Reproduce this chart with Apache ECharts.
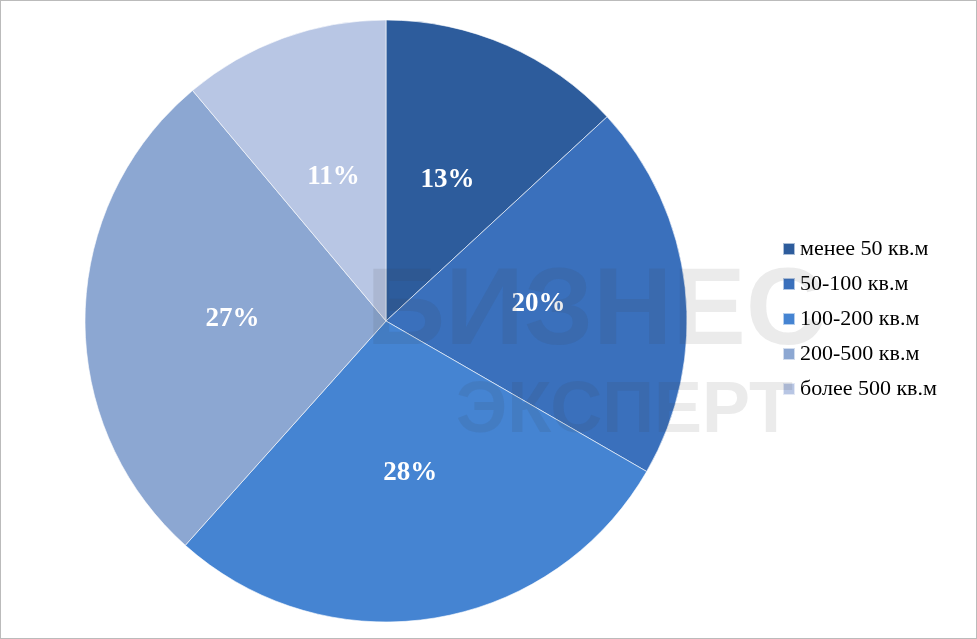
<!DOCTYPE html>
<html><head><meta charset="utf-8">
<script src="https://cdn.jsdelivr.net/npm/echarts@6/dist/echarts.min.js"></script>
<style>html,body{margin:0;padding:0;background:#fff}#chart{width:977px;height:639px;box-sizing:border-box;border:1px solid #bbb}</style>
</head><body><div id="chart"></div>
<script>
const categories = ["менее 50 кв.м", "50-100 кв.м", "100-200 кв.м", "200-500 кв.м", "более 500 кв.м"];
const shares = [13, 20, 28, 27, 11];
const colors = ["#2d5c9c", "#3a70bc", "#4584d2", "#8ca7d2", "#b8c6e4"];

const chart = echarts.init(document.getElementById("chart"));
chart.setOption({
  animation: false,
  graphic: [
    { type: "text", left: 365, top: 258, z: 100, silent: true, style: { text: "БИЗНЕС", font: "bold 110px Liberation Sans", fill: "rgba(60,60,60,0.10)" } },
    { type: "text", left: 455, top: 375, z: 100, silent: true, style: { text: "ЭКСПЕРТ", font: "bold 72px Liberation Sans", fill: "rgba(60,60,60,0.10)" } }
  ],
  legend: {
    orient: "vertical", left: 776, top: 232, itemGap: 13, itemWidth: 12, itemHeight: 12, icon: "rect",
    textStyle: { fontFamily: "Liberation Serif", fontSize: 22, color: "#000" },
    data: categories
  },
  series: [{
    type: "pie", center: [385, 320], radius: 301, startAngle: 90, clockwise: true,
    data: categories.map((c, i) => ({ name: c, value: shares[i], itemStyle: { color: colors[i] } })),
    itemStyle: { borderColor: "rgba(255,255,255,0.6)", borderWidth: 1 },
    label: { position: "inside", formatter: "{c}%", fontFamily: "Liberation Serif", fontWeight: "bold", fontSize: 27, color: "#fff" },
    labelLine: { show: false }
  }]
});
</script></body></html>
